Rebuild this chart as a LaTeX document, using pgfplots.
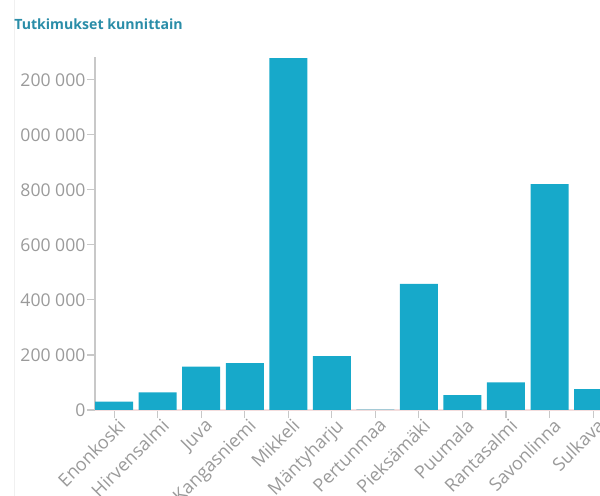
\documentclass[border=0pt]{standalone}
\usepackage{pgfplots}
\pgfplotsset{compat=1.18}
\usepackage{fontspec}
\setmainfont{Open Sans}
\definecolor{barc}{HTML}{17A9CA}
\definecolor{titlec}{HTML}{2A8DA8}
\definecolor{labc}{HTML}{9A9A9A}
\definecolor{axc}{HTML}{C8C8C8}
\begin{document}
\begin{tikzpicture}
\useasboundingbox (0pt,0pt) rectangle (450pt,372pt);
\clip (10.5pt,0pt) rectangle (450pt,372pt);
\draw[color=gray!12] (10.5pt,0pt) -- (10.5pt,372pt);
\node[anchor=base west,inner sep=0pt,text=titlec,font=\fontsize{10.6pt}{12pt}\selectfont\bfseries] at (10.5pt,350pt) {Tutkimukset kunnittain};
\begin{axis}[
  at={(71.25pt,64.5pt)}, anchor=south west,
  scale only axis,
  width=389.85pt, height=264.75pt,
  xmin=-0.44, xmax=11.5,
  ymin=0, ymax=1283000,
  axis x line=bottom, axis y line=left,
  axis line style={-, draw=axc, line width=0.8pt},
  x axis line style={draw=axc!70!red!30},
  tick align=outside,
  major tick length=6pt,
  tick style={draw=axc, line width=0.8pt},
  ytick={0,200000,400000,600000,800000,1000000,1200000},
  yticklabels={0,200 000,400 000,600 000,800 000,1 000 000,1 200 000},
  y tick label style={text=labc, font=\fontsize{13.2pt}{15pt}\selectfont, inner sep=1pt},
  xtick={0,...,11},
  xticklabels={Enonkoski,Hirvensalmi,Juva,Kangasniemi,Mikkeli,Mäntyharju,Pertunmaa,Pieksämäki,Puumala,Rantasalmi,Savonlinna,Sulkava},
  x tick label style={text=labc, font=\fontsize{13.6pt}{15pt}\selectfont, rotate=45, anchor=north east, inner sep=1pt, xshift=3pt},
  scaled y ticks=false,
  ybar, bar width=28.5pt, bar shift=0pt,
  clip=false,
]
\addplot[fill=barc, draw=none] coordinates {
  (0,30000) (1,64500) (2,157500) (3,170000) (4,1279000) (5,196000)
  (6,1000) (7,458000) (8,54500) (9,100000) (10,821000) (11,76000)
};
\end{axis}
\end{tikzpicture}
\end{document}
